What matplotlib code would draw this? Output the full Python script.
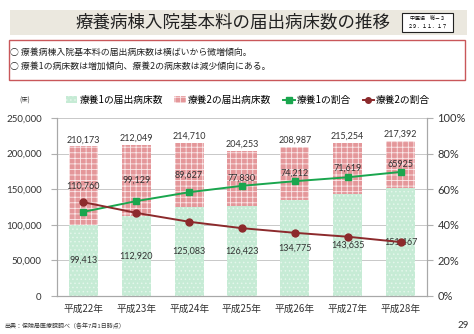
"""療養病棟入院基本料の届出病床数の推移 chart."""

import matplotlib
matplotlib.use("Agg")
import matplotlib.pyplot as plt
from matplotlib.patches import Rectangle, Patch
from matplotlib.lines import Line2D
from matplotlib.ticker import FuncFormatter, MultipleLocator
import numpy as np

plt.rcParams["font.family"] = ["Noto Sans CJK JP", "DejaVu Sans"]
plt.rcParams["hatch.linewidth"] = 0.6

# data
years = ["平成22年", "平成23年", "平成24年", "平成25年", "平成26年", "平成27年", "平成28年"]
beds_1 = [99413, 112920, 125083, 126423, 134775, 143635, 151467]
beds_2 = [110760, 99129, 89627, 77830, 74212, 71619, 65925]
totals = [210173, 212049, 214710, 204253, 208987, 215254, 217392]
beds_2_labels = ["110,760", "99,129", "89,627", "77,830", "74,212", "71,619", "65925"]
ratio_1 = [47.3, 53.3, 58.3, 61.9, 64.5, 66.7, 69.7]
ratio_2 = [52.7, 46.7, 41.7, 38.1, 35.5, 33.3, 30.3]

W, H = 474, 334
GREEN_BAR = "#c6ebd5"
RED_BAR = "#e4979a"
GREEN_LINE = "#1aa64e"
RED_LINE = "#8c2a2c"
NUM_FONT = ["Lato", "DejaVu Sans"]

fig = plt.figure(figsize=(W / 100, H / 100), dpi=100)


def fx(px):
    return px / W


def fy(py):
    return 1 - py / H


# header band
fig.patches.append(Rectangle((fx(10), fy(35)), fx(457), 25 / H, transform=fig.transFigure,
                             facecolor="#ebe8df", edgecolor="none"))
fig.text(fx(233), fy(22.5), "療養病棟入院基本料の届出病床数の推移", ha="center", va="center",
         fontsize=12.6, color="#222222")
fig.patches.append(Rectangle((fx(402), fy(32)), fx(51), 19 / H, transform=fig.transFigure,
                             facecolor="white", edgecolor="#222222", linewidth=0.8))
fig.text(fx(427.5), fy(18.5), "中医協　総－３", ha="center", va="center", fontsize=3.6)
fig.text(fx(427.5), fy(26.5), "２９．１１．１７", ha="center", va="center", fontsize=3.6)

# summary box
fig.patches.append(Rectangle((fx(9), fy(80)), fx(456), 40 / H, transform=fig.transFigure,
                             facecolor="white", edgecolor="#c9575a", linewidth=1.0))
fig.text(fx(10), fy(52.5), "○ 療養病棟入院基本料の届出病床数は横ばいから微増傾向。",
         ha="left", va="center", fontsize=6.4, color="#222222")
fig.text(fx(10), fy(66.5), "○ 療養1の病床数は増加傾向、療養2の病床数は減少傾向にある。",
         ha="left", va="center", fontsize=6.4, color="#222222")

# chart
ax = fig.add_axes([fx(57), fy(296), fx(370), 178 / H])
x = np.arange(len(years))
ax.bar(x, beds_1, width=0.55, color=GREEN_BAR, edgecolor="#e4f6eb", hatch="....", linewidth=0)
ax.bar(x, beds_2, width=0.55, bottom=beds_1, color=RED_BAR, edgecolor="#fbe9ea", hatch="+++",
       linewidth=0)

for i in range(len(years)):
    ax.text(x[i], beds_1[i] / 2, f"{beds_1[i]:,}", ha="center", va="center", fontsize=6.5,
            family=NUM_FONT, color="#333333")
    ax.text(x[i], beds_1[i] + beds_2[i] / 2, beds_2_labels[i], ha="center", va="center",
            fontsize=6.5, family=NUM_FONT, color="#333333")
    ax.text(x[i], totals[i] + 3000, f"{totals[i]:,}", ha="center", va="bottom", fontsize=6.5,
            family=NUM_FONT, color="#333333")

ax.set_xlim(-0.5, len(years) - 0.5)
ax.set_ylim(0, 250000)
ax.yaxis.set_major_locator(MultipleLocator(50000))
ax.yaxis.set_major_formatter(FuncFormatter(lambda v, p: f"{int(v):,}"))
ax.set_axisbelow(True)
ax.yaxis.grid(True, color="#c8c8c8", linewidth=0.7)
ax.set_xticks(x)
ax.set_xticklabels(years, fontsize=7, color="#333333")
ax.tick_params(axis="x", length=0, pad=6)
ax.tick_params(axis="y", length=4, color="#b0b0b0", labelsize=7, labelcolor="#333333", pad=7)
for lab in ax.get_yticklabels():
    lab.set_family(NUM_FONT)
for side in ["left", "right", "bottom"]:
    ax.spines[side].set_color("#a8a8a8")
ax.spines["top"].set_visible(False)

ax2 = ax.twinx()
ax2.plot(x, ratio_1, color=GREEN_LINE, marker="s", markersize=5, linewidth=1.4)
ax2.plot(x, ratio_2, color=RED_LINE, marker="o", markersize=5, linewidth=1.4)
ax2.set_ylim(0, 100)
ax2.yaxis.set_major_locator(MultipleLocator(20))
ax2.yaxis.set_major_formatter(FuncFormatter(lambda v, p: f"{int(v)}%"))
ax2.tick_params(axis="y", length=4, color="#b0b0b0", labelsize=8, labelcolor="#333333")
for lab in ax2.get_yticklabels():
    lab.set_family(NUM_FONT)
for side in ["left", "right", "bottom"]:
    ax2.spines[side].set_color("#a8a8a8")
ax2.spines["top"].set_visible(False)

# legend
handles = [
    Patch(facecolor=GREEN_BAR, edgecolor="#e4f6eb", hatch="....", linewidth=0),
    Patch(facecolor=RED_BAR, edgecolor="#fbe9ea", hatch="+++", linewidth=0),
    Line2D([], [], color=GREEN_LINE, marker="s", markersize=4, linewidth=1.4),
    Line2D([], [], color=RED_LINE, marker="o", markersize=4, linewidth=1.4),
]
labels = ["療養1の届出病床数", "療養2の届出病床数", "療養1の割合", "療養2の割合"]
fig.legend(handles, labels, loc="center", bbox_to_anchor=(fx(248), fy(100)), ncol=4,
           frameon=False, fontsize=7, handlelength=1.2, handleheight=0.7, handletextpad=0.2,
           columnspacing=1.2)
fig.text(fx(25), fy(101), "(床)", ha="center", va="center", fontsize=4.5, color="#333333")

# footer
fig.text(fx(4), fy(326), "出典：保険局医療課調べ（各年7月1日時点）", ha="left", va="center",
         fontsize=4.3, color="#333333")
fig.text(fx(463), fy(326), "29", ha="center", va="center", fontsize=7, color="#333333",
         family=NUM_FONT)

fig.savefig("out.png", dpi=100)
